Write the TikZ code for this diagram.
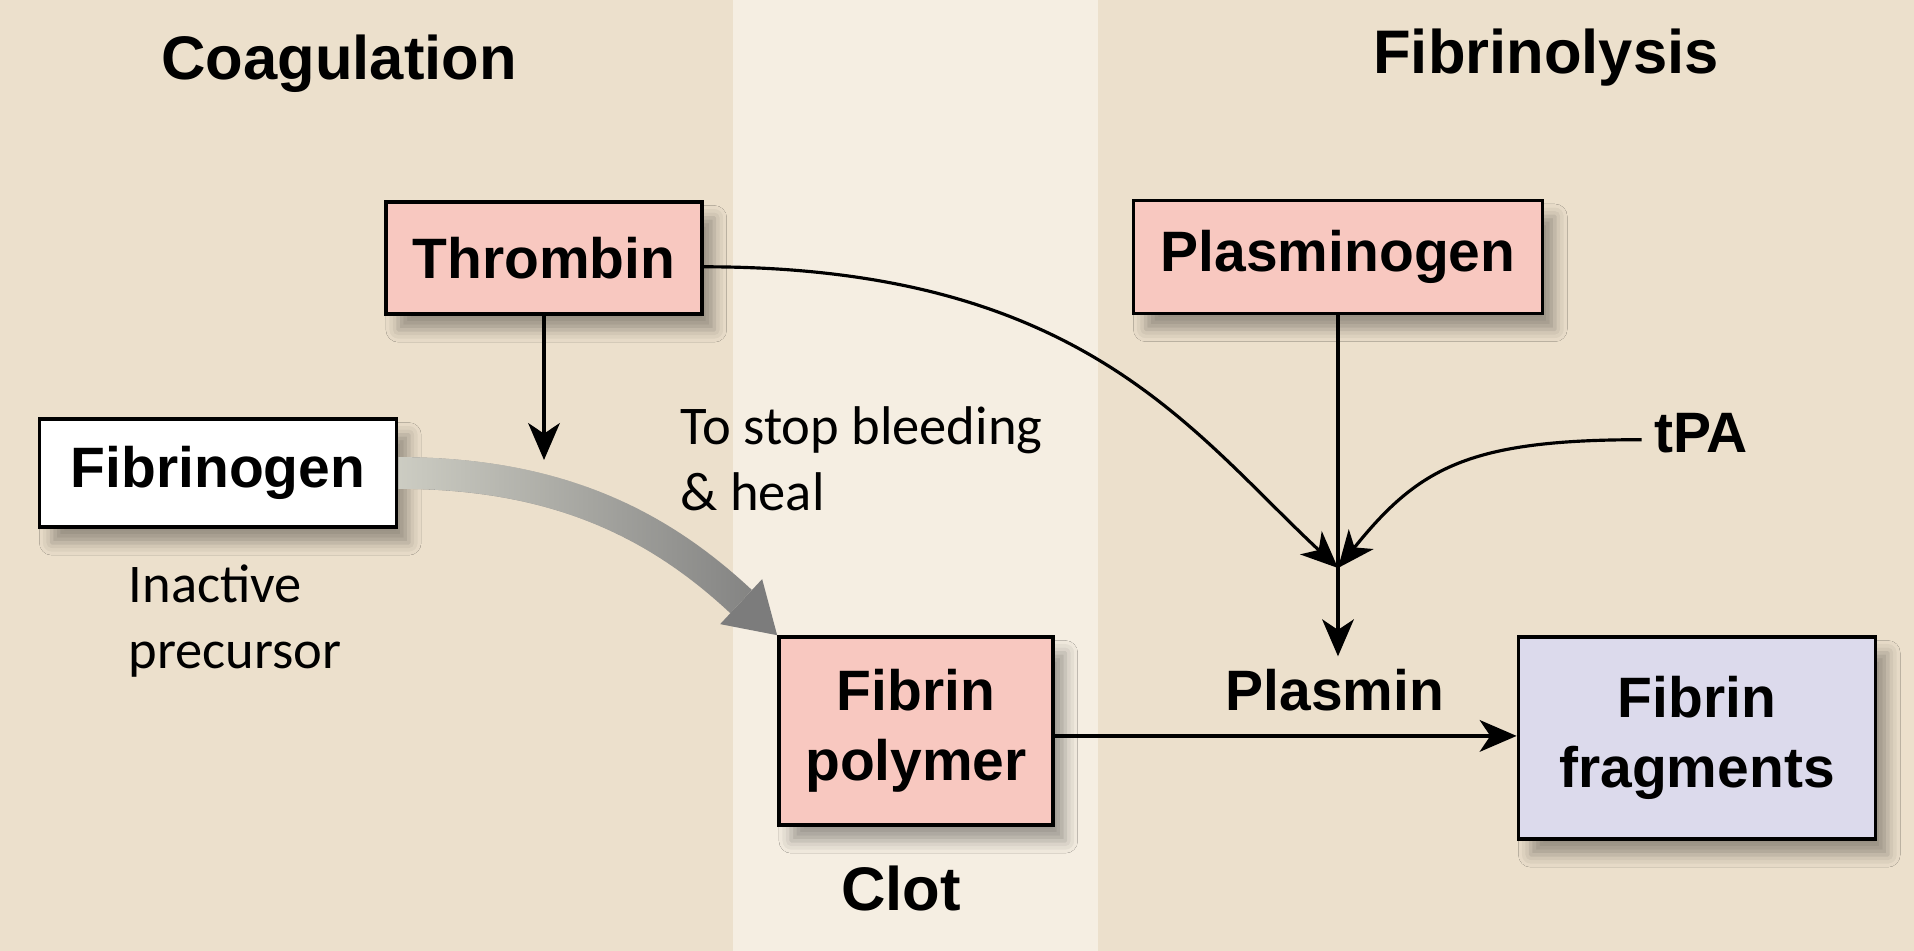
\documentclass[tikz,border=0pt]{standalone}
\usepackage{fontspec}
\setmainfont{Liberation Sans}
\newfontfamily\notefont{Carlito}
\usetikzlibrary{arrows.meta,shadows.blur,fadings}

\definecolor{bandtan}{RGB}{236,224,204}
\definecolor{bandlight}{RGB}{245,238,226}
\definecolor{boxpink}{RGB}{248,200,192}
\definecolor{boxlilac}{RGB}{220,218,236}
\definecolor{flowlight}{RGB}{208,208,198}
\definecolor{flowdark}{RGB}{124,124,124}

\tikzfading[name=flowfade, left color=transparent!0, right color=transparent!100]

\begin{document}
\begin{tikzpicture}[
    x=0.01cm, y=0.01cm,
    box/.style={
        draw, line width=1pt,
        fill=boxpink,
        align=center,
        font=\bfseries\fontsize{16.2}{20}\selectfont,
        blur shadow={shadow xshift=3.5pt, shadow yshift=-4.5pt,
            shadow blur radius=3.5pt, shadow opacity=35}
    },
    title/.style={font=\bfseries\fontsize{17.5}{21}\selectfont, inner sep=0pt},
    tag/.style={font=\bfseries\fontsize{16.2}{20}\selectfont},
    note/.style={
        font=\notefont\fontsize{15.5}{18.5}\selectfont,
        align=left, inner sep=0pt
    },
    arr/.style={line width=0.9pt,
        -{Stealth[length=10.5pt, width=9pt, inset=3pt]}}
]
\useasboundingbox (0,0) rectangle (1914,-951);
% bands
\fill[bandtan] (0,0) rectangle (733,-951);
\fill[bandlight] (733,0) rectangle (1098,-951);
\fill[bandtan] (1098,0) rectangle (1914,-951);

% headings
\node[title, anchor=base] (coag) at (339,-79) {Coagulation};
\node[title, anchor=base] (lysis) at (1546,-73) {Fibrinolysis};

% boxes
\node[box, minimum width=3.16cm, minimum height=1.12cm] (thrombin) at (544,-258) {Thrombin};
\node[box, minimum width=4.09cm, minimum height=1.13cm] (plasminogen) at (1338,-257) {Plasminogen};
\node[box, fill=white, minimum width=3.57cm, minimum height=1.08cm] (fibrinogen) at (218,-473) {Fibrinogen};
\node[box, minimum width=2.74cm, minimum height=1.88cm] (polymer) at (916,-731) {Fibrin\\polymer};
\node[box, fill=boxlilac, minimum width=3.57cm, minimum height=2.02cm] (fragments) at (1697,-738) {Fibrin\\fragments};

% labels
\node[title, anchor=base] (clot) at (901,-910) {Clot};
\node[tag, anchor=base] (plasmin) at (1335,-710) {Plasmin};
\node[tag, anchor=base] (tpa) at (1701,-452) {tPA};
\node[note, anchor=base west] (stop) at (680,-510) {To stop bleeding\\\& heal};
\node[note, anchor=base west] (inactive) at (128,-668) {Inactive\\precursor};

\coordinate (cue) at (544,-460);
\coordinate (join) at (1338,-568);

% wide grey flow
\draw[line width=9pt, flowdark, -{Triangle[length=14pt, width=17.5pt, line width=0pt]}]
    (fibrinogen.east) to[out=0, in=137] (polymer.north west);
\draw[line width=9pt, flowlight, path fading=flowfade, shorten >=14pt]
    (fibrinogen.east) to[out=0, in=137] (polymer.north west);

% connectors
\draw[arr] (thrombin.south) -- (cue);
\draw[arr] ([yshift=-2.5pt]thrombin.east) .. controls +(377,0) and +(-148,138) .. (join);
\draw[arr] ([yshift=-2pt]tpa.west) .. controls +(-172,0) and +(81,101) .. (join);
\draw[arr] (plasminogen.south) -- (plasminogen.south |- plasmin.north);
\draw[arr, line width=1.1pt] ([yshift=-1.4pt]polymer.east) -- ([yshift=-1.4pt]polymer.east -| fragments.west);
\end{tikzpicture}
\end{document}
